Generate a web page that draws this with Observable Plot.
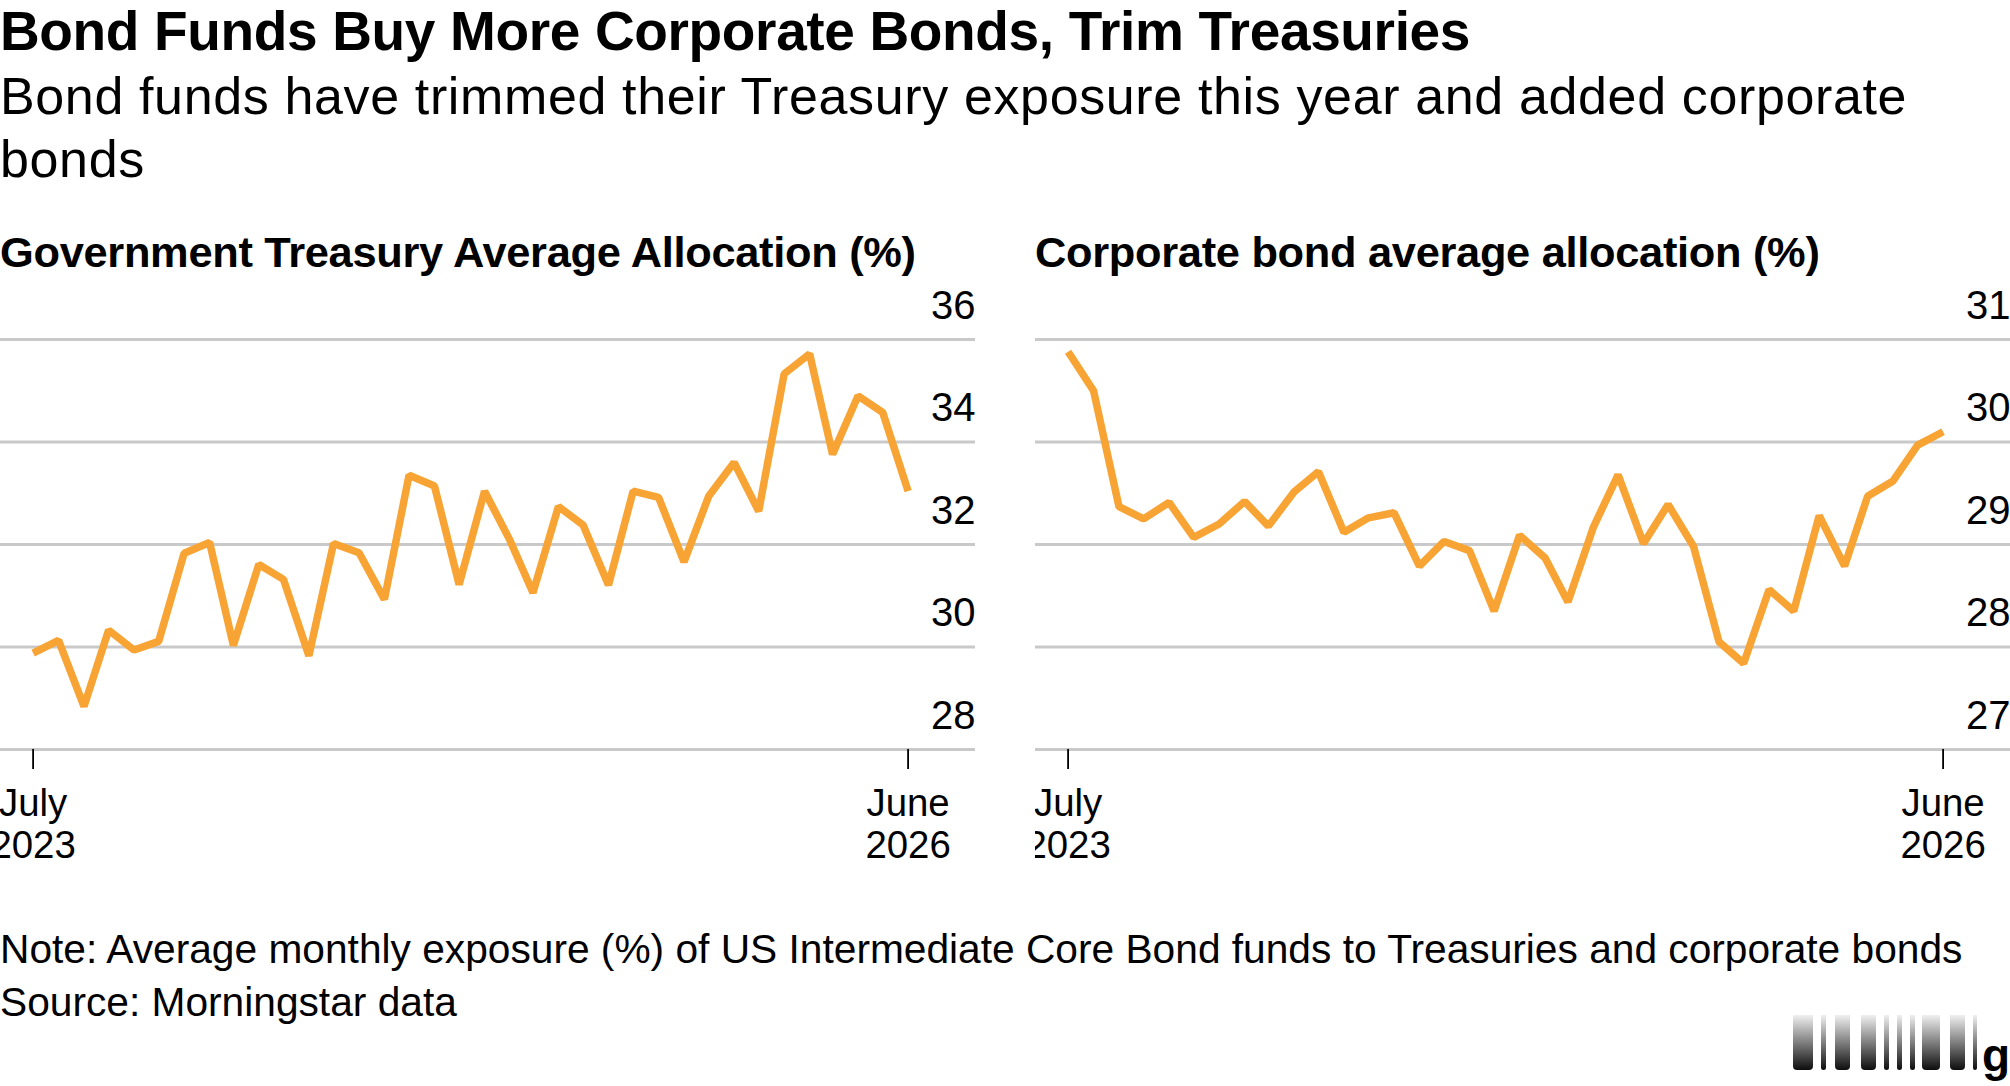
<!DOCTYPE html>
<html>
<head>
<meta charset="utf-8">
<script src="https://cdn.jsdelivr.net/npm/d3@7"></script>
<script src="https://cdn.jsdelivr.net/npm/@observablehq/plot@0.6"></script>
<style>
html,body{margin:0;padding:0;background:#fff;width:2010px;height:1086px;overflow:hidden;}
body{font-family:"Liberation Sans",sans-serif;color:#000;position:relative;}
.t{position:absolute;left:0;white-space:nowrap;margin:0;}
#title{top:1px;font-size:55px;line-height:60px;font-weight:700;letter-spacing:-0.35px;}
#sub{top:65px;font-size:52px;line-height:63px;font-weight:400;letter-spacing:0.63px;white-space:normal;width:1960px;}
.head{top:227px;font-size:43.4px;line-height:50px;font-weight:700;letter-spacing:-0.3px;}
#note{top:923px;font-size:40.7px;line-height:53px;}
.panel{position:absolute;top:280px;width:975px;height:600px;overflow:hidden;}
.panel svg{overflow:hidden;display:block;}
#logo{position:absolute;left:0;top:0;}
#logo div{position:absolute;top:1015px;height:55px;background:linear-gradient(to bottom,rgba(0,0,0,.06),rgba(0,0,0,.95));border-radius:0 0 4px 4px;}
#g{position:absolute;left:1982px;top:1030px;font-size:46px;line-height:50px;font-weight:700;}
</style>
</head>
<body>
<h1 class="t" id="title">Bond Funds Buy More Corporate Bonds, Trim Treasuries</h1>
<div class="t" id="sub">Bond funds have trimmed their Treasury exposure this year and added corporate bonds</div>
<div class="t head" style="left:0">Government Treasury Average Allocation (%)</div>
<div class="t head" style="left:1035px">Corporate bond average allocation (%)</div>
<div class="panel" id="left" style="left:0"></div>
<div class="panel" id="right" style="left:1035px"></div>
<div class="t" id="note">Note: Average monthly exposure (%) of US Intermediate Core Bond funds to Treasuries and corporate bonds<br>Source: Morningstar data</div>
<div id="logo"></div>
<div id="g">g</div>
<script>
const treasury = [29.88,30.13,28.84,30.33,29.94,30.11,31.83,32.04,30.03,31.61,31.32,29.83,32.02,31.84,30.93,33.35,33.14,31.22,33.04,32.08,31.06,32.74,32.38,31.21,33.04,32.92,31.66,32.94,33.60,32.65,35.33,35.72,33.76,34.90,34.58,33.04];
const corporate = [30.88,30.50,29.37,29.25,29.41,29.07,29.20,29.42,29.18,29.51,29.71,29.12,29.26,29.31,28.79,29.03,28.94,28.35,29.09,28.87,28.44,29.17,29.68,29.01,29.39,28.98,28.05,27.84,28.56,28.35,29.28,28.79,29.47,29.62,29.97,30.10];
const months = d3.utcMonth.range(new Date(Date.UTC(2023,6,1)), new Date(Date.UTC(2026,6,1)));
const treasuryTicks = [28,30,32,34,36];
const corporateTicks = [27,28,29,30,31];
const xTicks = [new Date(Date.UTC(2023,6,1)), new Date(Date.UTC(2026,5,1))];
const logoBars = [[1793,20],[1821,5],[1835,15],[1861,15],[1884,5],[1897,5],[1910,5],[1922,18],[1950,15],[1973,4]];

function panel(el, values, ticks){
  const rows = months.map((d,i)=>({date:d,value:values[i]}));
  const chart = Plot.plot({
    width:975, height:600, marginTop:59, marginBottom:131, marginLeft:0, marginRight:0,
    style:{fontFamily:"'Liberation Sans',sans-serif",background:"transparent",overflow:"hidden"},
    x:{type:"utc",domain:[xTicks[0],xTicks[1]],range:[32.6,907.6],label:null},
    y:{domain:[ticks[0],ticks[ticks.length-1]],label:null},
    marks:[
      Plot.ruleY(ticks,{stroke:"#c9c9c9",strokeWidth:2.8}),
      Plot.axisY(ticks,{anchor:"right",tickSize:0,tickPadding:0,textAnchor:"end",lineAnchor:"middle",dy:-33.5,fontSize:40,fill:"#000",label:null,tickFormat:d=>String(d)}),
      Plot.axisX(xTicks,{anchor:"bottom",tickSize:20,tickPadding:17,stroke:"#000",strokeWidth:1.8,fontSize:38.4,fill:"#000",lineHeight:1.09,label:null,tickFormat:d3.utcFormat("%B\n%Y")}),
      Plot.line(rows,{x:"date",y:"value",stroke:"#f8a435",strokeWidth:7.5,strokeLinejoin:"miter",strokeLinecap:"butt"})
    ]
  });
  document.getElementById(el).appendChild(chart);
}
panel("left",treasury,treasuryTicks);
panel("right",corporate,corporateTicks);

const logo = document.getElementById("logo");
logoBars.forEach(([x,w])=>{
  const b=document.createElement("div");
  b.style.left=x+"px"; b.style.width=w+"px";
  logo.appendChild(b);
});
</script>
</body>
</html>
